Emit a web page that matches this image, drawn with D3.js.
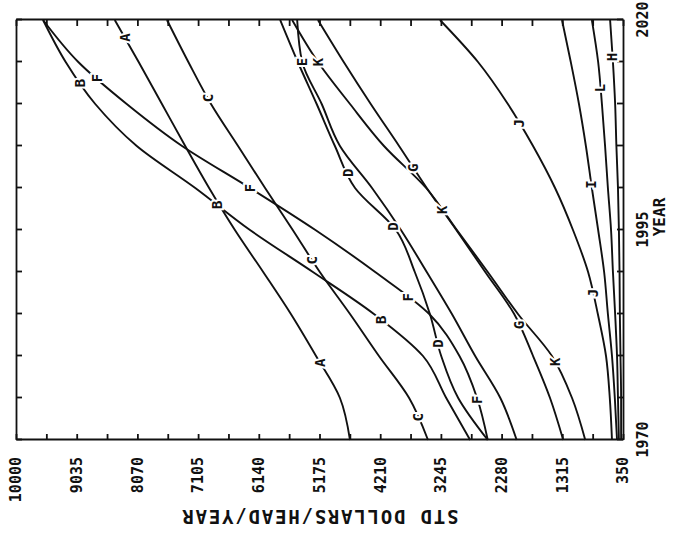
<!DOCTYPE html>
<html>
<head>
<meta charset="utf-8">
<script src="https://cdn.jsdelivr.net/npm/d3@7"></script>
<style>
  body { margin: 0; background: #fff; }
  svg { display: block; }
  .axis path, .axis line { stroke: #111; stroke-width: 1.8px; }
  .axis text { font-family: "DejaVu Sans Mono", monospace; font-size: 15px; font-weight: bold; fill: #111; }
  .curve { fill: none; stroke: #111; stroke-width: 1.9px; }
  .tag { font-family: "DejaVu Sans Mono", monospace; font-size: 14px; font-weight: bold; fill: #111;
         stroke: #fff; stroke-width: 4px; paint-order: stroke; }
  .title { font-family: "DejaVu Sans Mono", monospace; font-weight: bold; fill: #111; }
</style>
</head>
<body>
<script>
const years = [1970, 1975, 1980, 1985, 1990, 1995, 2000, 2005, 2010, 2015, 2020];

const curveA = [4690, 4850, 5230, 5630, 6070, 6520, 6930, 7310, 7680, 8050, 8430];
const curveB = [2780, 3160, 3530, 4310, 5280, 6280, 7150, 8080, 8740, 9210, 9570];
const curveC = [3450, 3750, 4230, 4690, 5170, 5600, 6040, 6470, 6900, 7260, 7600];
const curveD = [2500, 2970, 3240, 3420, 3660, 3960, 4610, 4930, 5220, 5520, 5800];
const curveE = [2040, 2300, 2700, 3070, 3470, 3880, 4340, 4850, 5140, 5450, 5530];
const curveF = [2500, 2670, 2950, 3430, 4290, 5240, 6280, 7360, 8240, 9010, 9570];
const curveG = [1300, 1510, 1780, 2080, 2540, 3000, 3470, 3910, 4360, 4790, 5200];
const curveH = [380, 380, 390, 400, 405, 415, 430, 455, 475, 510, 555];
const curveI = [445, 480, 525, 590, 650, 745, 845, 940, 1050, 1180, 1320];
const curveJ = [525, 560, 620, 750, 905, 1145, 1430, 1780, 2180, 2655, 3260];
const curveK = [950, 1160, 1480, 2020, 2500, 2990, 3480, 4150, 4690, 5200, 5610];
const curveL = [415, 430, 445, 475, 510, 540, 590, 635, 685, 745, 845];

// years where each curve carries its letter
const tagsA = [2017.9, 1979.2];
const tagsB = [2012.5, 1998, 1984.3];
const tagsC = [2010.7, 1991.4, 1972.7];
const tagsD = [2001.8, 1995.4, 1981.5];
const tagsE = [2015];
const tagsF = [2013.1, 2000, 1987, 1974.8];
const tagsG = [2002.4, 1983.7];
const tagsH = [2015.6];
const tagsI = [2000.4];
const tagsJ = [2007.7, 1987.5];
const tagsK = [2015, 1997.4, 1979.3];
const tagsL = [2011.9];

const valueTicks = [350, 1315, 2280, 3245, 4210, 5175, 6140, 7105, 8070, 9035, 10000];
const yearTicks = [1970, 1975, 1980, 1985, 1990, 1995, 2000, 2005, 2010, 2015, 2020];
const yearLabels = [1970, 1995, 2020];

const series = [
    ['A', curveA, tagsA], ['B', curveB, tagsB], ['C', curveC, tagsC],
    ['D', curveD, tagsD], ['E', curveE, tagsE], ['F', curveF, tagsF],
    ['G', curveG, tagsG], ['H', curveH, tagsH], ['I', curveI, tagsI],
    ['J', curveJ, tagsJ], ['K', curveK, tagsK], ['L', curveL, tagsL]
].map(([name, values, tags]) => ({ name, values, tags }));

const width = 675;
const height = 538;
// the printed chart was turned a quarter turn: years run up, dollars run left
const W = 420;
const H = 607;

const svg = d3.select('body')
    .append('svg')
    .attr('width', width)
    .attr('height', height);

const g = svg.append('g')
    .attr('transform', 'translate(16,440) rotate(-90)');

const x = d3.scaleLinear().domain([1970, 2020]).range([0, W]);
const y = d3.scaleLinear().domain([350, 10000]).range([H, 0]);

const minorTicks = d3.pairs(valueTicks).map(([a, b]) => (a + b) / 2);
const allValueTicks = valueTicks.concat(minorTicks).sort(d3.ascending);

g.append('g')
    .attr('class', 'axis')
    .call(d3.axisLeft(y)
        .tickValues(allValueTicks)
        .tickSizeInner(-6).tickSizeOuter(0)
        .tickPadding(17)
        .tickFormat(d => valueTicks.includes(d) ? String(d) : ''));

g.append('g')
    .attr('class', 'axis')
    .attr('transform', `translate(${W},0)`)
    .call(d3.axisRight(y)
        .tickValues(allValueTicks)
        .tickSizeInner(-6).tickSizeOuter(0)
        .tickFormat(''));

g.append('g')
    .attr('class', 'axis')
    .attr('transform', `translate(0,${H})`)
    .call(d3.axisBottom(x)
        .tickValues(yearTicks)
        .tickSizeInner(-6).tickSizeOuter(0)
        .tickPadding(14)
        .tickFormat(d => yearLabels.includes(d) ? String(d) : ''));

g.append('g')
    .attr('class', 'axis')
    .call(d3.axisTop(x)
        .tickValues(yearTicks)
        .tickSizeInner(-6).tickSizeOuter(0)
        .tickFormat(''));

g.selectAll('.axis .domain').attr('stroke-width', 2);

g.append('text')
    .attr('class', 'title')
    .attr('transform', `translate(-70,${H / 2}) rotate(-90)`)
    .attr('text-anchor', 'middle')
    .style('font-size', '19px')
    .style('letter-spacing', '1.8px')
    .text('STD DOLLARS/HEAD/YEAR');

g.append('text')
    .attr('class', 'title')
    .attr('x', W / 2 + 13)
    .attr('y', H + 42)
    .attr('text-anchor', 'middle')
    .style('font-size', '16px')
    .text('YEAR');

const line = d3.line()
    .x((d, i) => x(years[i]))
    .y(d => y(d))
    .curve(d3.curveMonotoneX);

g.selectAll('path.curve')
    .data(series)
    .join('path')
    .attr('class', 'curve')
    .attr('d', d => line(d.values));

function valueAt(values, yr) {
    const i = Math.min(Math.max(d3.bisectRight(years, yr) - 1, 0), years.length - 2);
    const t = (yr - years[i]) / (years[i + 1] - years[i]);
    return values[i] + t * (values[i + 1] - values[i]);
}

const tags = series.flatMap(s => s.tags.map(yr => ({ name: s.name, yr, v: valueAt(s.values, yr) })));

g.selectAll('text.tag')
    .data(tags)
    .join('text')
    .attr('class', 'tag')
    .attr('x', d => x(d.yr))
    .attr('y', d => y(d.v))
    .attr('dy', '0.35em')
    .attr('text-anchor', 'middle')
    .text(d => d.name);
</script>
</body>
</html>
